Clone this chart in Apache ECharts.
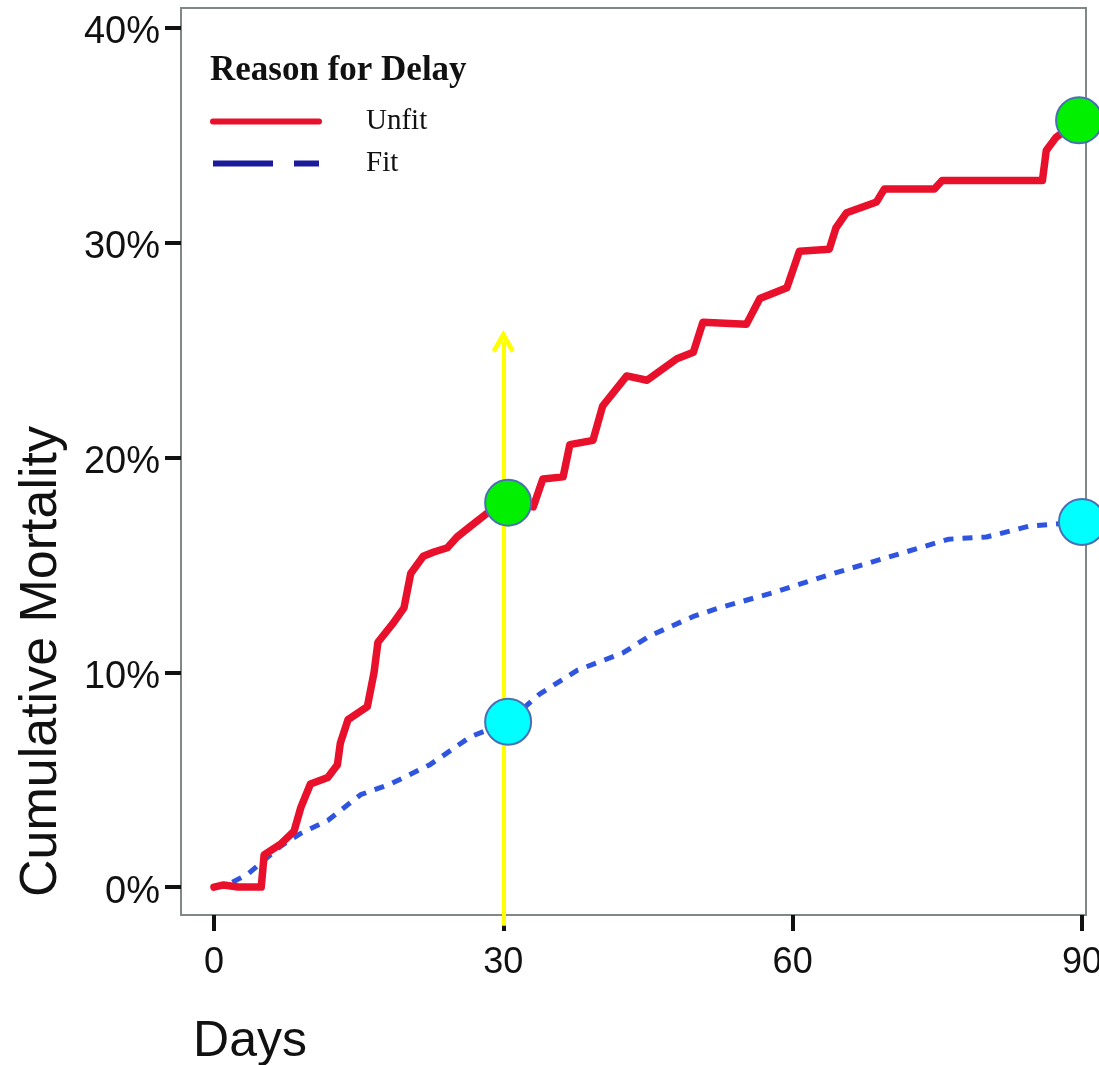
<!DOCTYPE html>
<html>
<head>
<meta charset="utf-8">
<script src="https://cdn.jsdelivr.net/npm/echarts@6/dist/echarts.min.js"></script>
<style>
html,body{margin:0;padding:0;background:#fff;}
#chart{width:1099px;height:1065px;}
</style>
</head>
<body>
<div id="chart"></div>
<script>
// ---- data ----
const xTicks = [0, 30, 60, 90];
const yTicks = [0, 10, 20, 30, 40];
const seriesNames = ['Unfit', 'Fit'];
const legendTitle = 'Reason for Delay';

const unfitDays = [0, 1, 2.5, 4.9, 5.2, 6.9, 8.3, 9.0, 10.0, 11.8, 12.8, 13.1, 13.9, 15.9, 16.6, 17.0, 18.6, 19.7, 20.4, 21.7, 22.8, 24.2, 25.2, 26.6, 28.3, 30.5, 33.1, 34.1, 36.2, 36.9, 39.3, 40.3, 42.8, 44.9, 48.0, 49.7, 50.7, 55.2, 56.6, 59.4, 60.7, 63.8, 64.5, 65.6, 68.7, 69.5, 74.7, 75.5, 85.9, 86.3, 87.3, 89.7];
const unfitPct  = [0, 0.1, 0, 0, 1.5, 2.0, 2.6, 3.7, 4.8, 5.1, 5.7, 6.7, 7.8, 8.4, 10.0, 11.4, 12.3, 13.0, 14.6, 15.4, 15.6, 15.8, 16.3, 16.8, 17.4, 17.9, 17.7, 19.0, 19.1, 20.6, 20.8, 22.4, 23.8, 23.6, 24.6, 24.9, 26.3, 26.2, 27.4, 27.9, 29.6, 29.7, 30.7, 31.4, 31.9, 32.5, 32.5, 32.9, 32.9, 34.3, 34.9, 35.7];

const fitDays = [0, 1.8, 3.5, 6.9, 9.0, 11.8, 15.2, 18.3, 22.4, 26.6, 30.5, 33.8, 37.7, 42.4, 45.2, 49.7, 52.4, 57.9, 63.5, 68.7, 76.2, 80.1, 84.5, 90];
const fitPct  = [0, 0.2, 0.6, 1.9, 2.5, 3.1, 4.3, 4.8, 5.7, 7.0, 7.7, 9.0, 10.1, 10.9, 11.7, 12.6, 13.0, 13.7, 14.5, 15.2, 16.2, 16.3, 16.8, 17.0];

// annotation overlay (arrow at day 30, highlighted points)
const arrowDay = 30;
const arrowFrom = -1.8;
const arrowTo = 25.4;
const greenDots = [[30.5, 17.9], [89.7, 35.7]];
const cyanDots  = [[30.5, 7.7], [90, 17.0]];

const zip = (a, b) => a.map((v, i) => [v, b[i]]);

const chart = echarts.init(document.getElementById('chart'), null, {renderer: 'canvas'});
const frameColor = '#7f8787';
const sans = 'Liberation Sans, Arial, Helvetica, sans-serif';
const serif = 'Liberation Serif, Times New Roman, serif';

chart.setOption({
  backgroundColor: '#ffffff',
  animation: false,
  title: {
    text: legendTitle,
    left: 210, top: 53, padding: 0,
    textStyle: {fontFamily: serif, fontWeight: 'bold', fontSize: 35, color: '#111'}
  },
  legend: {
    orient: 'vertical',
    left: 210, top: 107, padding: 0,
    itemWidth: 106, itemHeight: 14, itemGap: 13,
    itemStyle: {opacity: 0},
    textStyle: {fontFamily: serif, fontSize: 29, color: '#111', padding: [0, 0, 0, 42]},
    data: [
      {name: seriesNames[0], itemStyle: {opacity: 0}, lineStyle: {color: '#e8102a', width: 6, type: 'solid'}},
      {name: seriesNames[1], itemStyle: {opacity: 0}, lineStyle: {color: '#1b1b9e', width: 6, type: [60, 21]}}
    ]
  },
  grid: {
    left: 181, right: 13, top: 8, bottom: 150,
    outerBoundsMode: 'none',
    show: true, borderColor: frameColor, borderWidth: 2, backgroundColor: '#fff'
  },
  xAxis: {
    type: 'value', min: -3.42, max: 90.42,
    splitLine: {show: false},
    axisLine: {show: true, onZero: false, lineStyle: {color: frameColor, width: 2}},
    axisTick: {show: true, customValues: xTicks, length: 16, lineStyle: {color: '#111', width: 4}},
    axisLabel: {customValues: xTicks, margin: 30, fontSize: 36, fontFamily: sans, color: '#111'},
    name: 'Days', nameLocation: 'middle', nameGap: 102,
    nameTextStyle: {fontSize: 50, fontFamily: sans, color: '#111', padding: [0, 767, 0, 0]}
  },
  yAxis: {
    type: 'value', min: -1.30, max: 40.93,
    splitLine: {show: false},
    axisLine: {show: true, onZero: false, lineStyle: {color: frameColor, width: 2}},
    axisTick: {show: true, customValues: yTicks, length: 16, lineStyle: {color: '#111', width: 4}},
    axisLabel: {
      customValues: yTicks, margin: 21, fontSize: 38, fontFamily: sans, color: '#111',
      formatter: '{p|{value}%}',
      rich: {p: {fontSize: 38, fontFamily: sans, color: '#111', padding: [10, 0, 0, 0]}}
    },
    name: 'Cumulative Mortality', nameLocation: 'middle', nameGap: 113,
    nameTextStyle: {fontSize: 52, fontFamily: sans, color: '#111', padding: [0, 400, 0, 0]}
  },
  series: [
    {
      name: seriesNames[1], type: 'line', data: zip(fitDays, fitPct),
      symbol: 'none', z: 2,
      lineStyle: {color: '#2f55e0', width: 5, type: [10, 9]}
    },
    {
      name: seriesNames[0], type: 'line', data: zip(unfitDays, unfitPct),
      symbol: 'none', z: 3,
      lineStyle: {color: '#e8102a', width: 7.5, join: 'round', cap: 'round'}
    },
    {
      type: 'lines', coordinateSystem: 'cartesian2d', z: 4, clip: false,
      symbol: ['none', 'path://M0,17 L11,0 L22,17 L18.5,19.5 L11,8 L3.5,19.5 Z'],
      symbolSize: 23,
      lineStyle: {color: '#ffff00', width: 4, opacity: 1},
      data: [{coords: [[arrowDay, arrowFrom], [arrowDay, arrowTo]]}]
    },
    {
      type: 'scatter', z: 5, clip: false, symbolSize: 46,
      itemStyle: {color: '#00f000', borderColor: '#4a6fb5', borderWidth: 2, opacity: 1},
      data: greenDots
    },
    {
      type: 'scatter', z: 5, clip: false, symbolSize: 46,
      itemStyle: {color: '#00ffff', borderColor: '#4a6fb5', borderWidth: 2, opacity: 1},
      data: cyanDots
    }
  ]
});
</script>
</body>
</html>
